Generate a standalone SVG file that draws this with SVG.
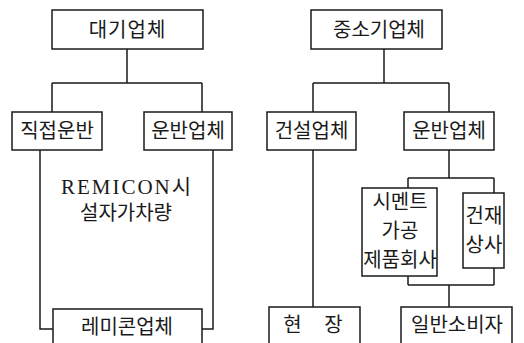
<svg xmlns="http://www.w3.org/2000/svg" width="524" height="343" viewBox="0 0 524 343">
<style>
.box{fill:#fff;stroke:#1a1a1a;stroke-width:1.5}
.ln{fill:none;stroke:#1a1a1a;stroke-width:1.5}
text{font-family:"Noto Sans CJK KR","Noto Sans",sans-serif;font-size:20px;fill:#1a1a1a;text-anchor:middle}
.ser{font-family:"Liberation Serif","Noto Sans CJK KR",serif;letter-spacing:2px;font-size:21px}
</style>
<rect width="524" height="343" fill="#fff"/>
<g id="connectors">
<path class="ln" d="M127,49 V83 M52,83 H202 M52,83 V112 M202,83 V112"/>
<path class="ln" d="M40,150 V329 H53 M213,150 V329 H202"/>
<path class="ln" d="M384,49 V83 M313,83 H449 M313,83 V112 M449,83 V112"/>
<path class="ln" d="M313,150 V307"/>
<path class="ln" d="M449,150 V178 M408,178 H494 M408,178 V188 M494,178 V193"/>
<path class="ln" d="M408,276 V285 M494,268 V285 M408,285 H494 M449,285 V307"/>
</g>
<g id="n1"><rect class="box" x="52" y="10" width="151" height="39"/><text x="127.5" y="37" letter-spacing="1">대기업체</text></g>
<g id="n2"><rect class="box" x="12" y="112" width="90" height="38"/><text x="57" y="138">직접운반</text></g>
<g id="n3"><rect class="box" x="144" y="112" width="88" height="38"/><text x="188" y="138">운반업체</text></g>
<g id="n4"><text class="ser" x="127" y="194">REMICON시</text><text x="126" y="220">설자가차량</text></g>
<g id="n5"><rect class="box" x="53" y="309" width="149" height="40"/><text x="127" y="334">레미콘업체</text></g>
<g id="n6"><rect class="box" x="311" y="10" width="131" height="39"/><text x="379" y="37">중소기업체</text></g>
<g id="n7"><rect class="box" x="267" y="112" width="89" height="38"/><text x="311.5" y="138">건설업체</text></g>
<g id="n8"><rect class="box" x="404" y="112" width="90" height="38"/><text x="449" y="138">운반업체</text></g>
<g id="n9"><rect class="box" x="362" y="188" width="75" height="88"/><text x="400" y="209">시멘트</text><text x="400" y="238">가공</text><text x="400" y="267">제품회사</text></g>
<g id="n10"><rect class="box" x="463" y="193" width="41" height="75"/><text x="484" y="223">건재</text><text x="484" y="252">상사</text></g>
<g id="n11"><rect class="box" x="269" y="307" width="91" height="42"/><text x="313" y="332" word-spacing="18">현 장</text></g>
<g id="n12"><rect class="box" x="401" y="307" width="111" height="42"/><text x="457" y="332">일반소비자</text></g>
</svg>
